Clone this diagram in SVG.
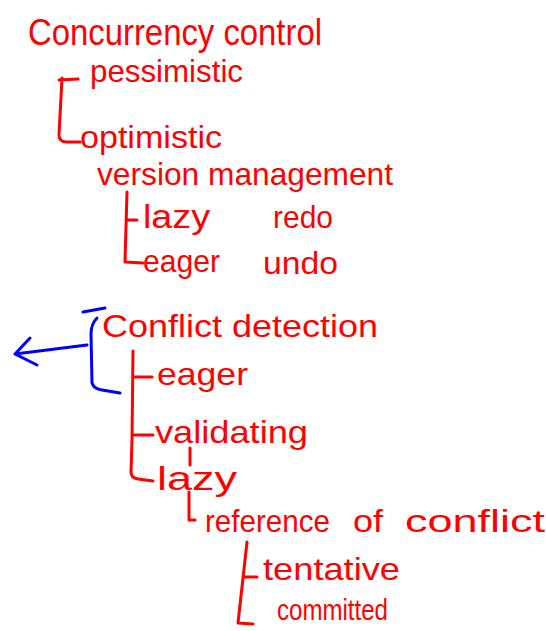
<svg xmlns="http://www.w3.org/2000/svg" width="546" height="631" viewBox="0 0 546 631">
<style>
.t{font-family:"Liberation Sans","DejaVu Sans",sans-serif;fill:#ff0000;font-size:32px}
.r{fill:none;stroke:#ff0000;stroke-width:3;stroke-linecap:round;stroke-linejoin:round}
.b{fill:none;stroke:#0000ff;stroke-width:3;stroke-linecap:round;stroke-linejoin:round}
</style>
<rect width="546" height="631" fill="#ffffff"/>
<g id="connectors">
<path class="r" d="M78 79 L59 80 M62 78 L59 135 Q59 142 67 142 L80 142"/>
<path class="r" d="M127 192 L125 262 L143 263 M127 220 L137 220"/>
<path class="r" d="M133 351 L132 440 L131 472 Q131 478 138 479 L153 481 M133 377 L152 377 M132 435 L153 435"/>
<path class="r" d="M190 448 L190 465"/>
<path class="r" d="M189 492 L189 520 L195 520"/>
<path class="r" d="M247 542 L238 623 L253 624 M244 577 L257 577"/>
<path class="b" d="M83 312 L105 308 M97 318 Q91 324 91 334 L92 383 Q94 389 102 390 L120 393"/>
<path class="b" d="M87 345 L15 354 M30 338 L15 354 L37 365"/>
</g>
<g id="concurrency-control"><text class="t" x="28" y="45" style="font-size:36px" textLength="294" lengthAdjust="spacingAndGlyphs">Concurrency control</text></g>
<g id="pessimistic"><text class="t" x="90" y="82" textLength="153" lengthAdjust="spacingAndGlyphs">pessimistic</text></g>
<g id="optimistic"><text class="t" x="80" y="148" textLength="142" lengthAdjust="spacingAndGlyphs">optimistic</text></g>
<g id="version-management"><text class="t" x="97" y="185" textLength="296" lengthAdjust="spacingAndGlyphs">version management</text></g>
<g id="lazy-redo"><text class="t" x="143" y="228" style="font-size:34px" textLength="67" lengthAdjust="spacingAndGlyphs">lazy</text><text class="t" x="273" y="228" textLength="60" lengthAdjust="spacingAndGlyphs">redo</text></g>
<g id="eager-undo"><text class="t" x="143" y="272" textLength="77" lengthAdjust="spacingAndGlyphs">eager</text><text class="t" x="263" y="274" textLength="75" lengthAdjust="spacingAndGlyphs">undo</text></g>
<g id="conflict-detection"><text class="t" x="102" y="337" textLength="276" lengthAdjust="spacingAndGlyphs">Conflict detection</text></g>
<g id="eager-cd"><text class="t" x="157" y="385" textLength="91" lengthAdjust="spacingAndGlyphs">eager</text></g>
<g id="validating"><text class="t" x="155" y="443" textLength="153" lengthAdjust="spacingAndGlyphs">validating</text></g>
<g id="lazy-cd"><text class="t" x="157" y="490" style="font-size:34px" textLength="80" lengthAdjust="spacingAndGlyphs">lazy</text></g>
<g id="reference-of-conflict"><text class="t" y="532"><tspan x="205" textLength="125" lengthAdjust="spacingAndGlyphs">reference</tspan><tspan x="353" textLength="30" lengthAdjust="spacingAndGlyphs">of</tspan><tspan x="405" textLength="140" lengthAdjust="spacingAndGlyphs">conflict</tspan></text></g>
<g id="tentative"><text class="t" x="263" y="580" textLength="137" lengthAdjust="spacingAndGlyphs">tentative</text></g>
<g id="committed"><text class="t" x="277" y="620" style="font-size:29px" textLength="111" lengthAdjust="spacingAndGlyphs">committed</text></g>
</svg>
